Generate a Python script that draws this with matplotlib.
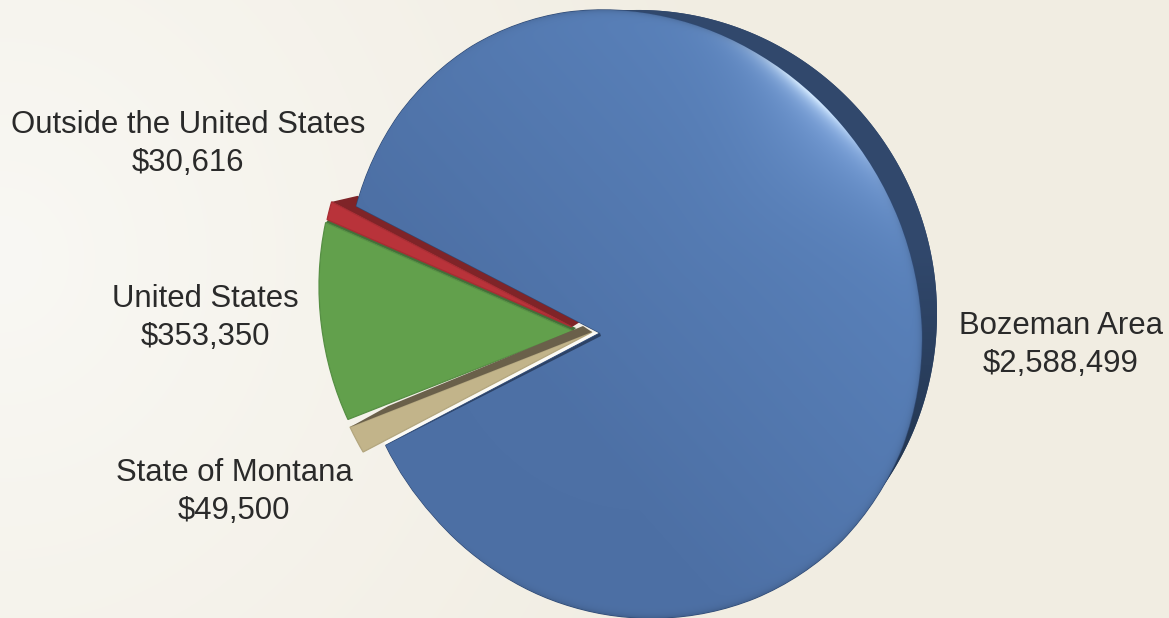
import numpy as np
import matplotlib
matplotlib.use("Agg")
import matplotlib.pyplot as plt
from matplotlib.transforms import Transform

categories = ["Bozeman Area", "Outside the United States", "United States", "State of Montana"]
amounts = [2588499, 30616, 353350, 49500]
label_x = [1061, 188, 205, 234]
label_y = [345, 144, 318, 492]

W, H = 1169, 618
# outline of the tilted disc, in pixels
CX, CY = 627.0, 314.0
L = np.array([[295.0, 0.0], [26.0, 303.0]])
L_INV = np.linalg.inv(L)
SQUASH = 1.08


class PieWarp(Transform):
    """Moves the unit pie onto the tilted disc, apex away from the centre."""
    input_dims = 2
    output_dims = 2

    def __init__(self, apex, shift, pinch=0.0):
        super().__init__()
        self.apex = np.array(apex, float)
        self.centre = np.array([CX + shift[0], CY + shift[1]])
        self.pinch = pinch

    def transform_non_affine(self, values):
        values = np.asarray(values, float)
        r = np.hypot(values[:, 0], values[:, 1])
        th = np.arctan2(values[:, 1], values[:, 0])
        d = np.column_stack([np.cos(th), -SQUASH * np.sin(th)])
        a = d @ L_INV.T
        b = L_INV @ (self.apex - self.centre)
        ab = a @ b
        aa = (a * a).sum(axis=1)
        t = (-ab + np.sqrt(ab ** 2 - aa * (b @ b - 1))) / aa
        # far side of the disc comes in a little
        t = t * (1 - self.pinch * np.clip(-np.cos(th), 0, None) ** 2)
        return self.apex + (r * t)[:, None] * d


def lerp(c1, c2, f):
    c1 = np.array(matplotlib.colors.to_rgb(c1))
    c2 = np.array(matplotlib.colors.to_rgb(c2))
    return c1 + (c2 - c1) * np.clip(f, 0, 1)[..., None]


def side_wall(ax, warp, theta, apex_d, outer_d, color, z):
    # thin extruded wall along one straight edge of a slice
    rad = np.radians(theta)
    corner = warp.transform(np.array([[np.cos(rad), np.sin(rad)]]))[0]
    apex = warp.apex
    ax.fill([apex[0], corner[0], corner[0] + outer_d[0], apex[0] + apex_d[0]],
            [apex[1], corner[1], corner[1] + outer_d[1], apex[1] + apex_d[1]],
            color=color, lw=0, zorder=z)


fig = plt.figure(figsize=(W / 100, H / 100), dpi=100)
ax = fig.add_axes([0, 0, 1, 1])

plt.rcParams['font.family'] = ['Liberation Sans', 'DejaVu Sans']

yy, xx = np.mgrid[0:H, 0:W] + 0.5

# page background, lightest at the middle of the left side
bg = lerp("#f9f8f4", "#f1ede2", np.hypot(xx / 760, (yy - 260) / 800))
ax.imshow(bg, extent=(0, W, H, 0), zorder=0, aspect="auto")

# dark back of the disc, only the part that shows past the upper right edge
t = np.linspace(-1.75, 1.1, 300)
back_x = 642 + 295 * np.cos(t)
back_y = 310 + 4 * np.cos(t) + 300 * np.sin(t)
back = ax.fill(back_x, back_y, color="#31496d", lw=0, zorder=1)[0]
back_img = ax.imshow(lerp("#31486c", "#233650", (yy - 250) / 230), extent=(0, W, H, 0), zorder=1.1, aspect="auto")
back_img.set_clip_path(back)

wedges, _ = ax.pie(amounts, startangle=205.9, counterclock=True, radius=1.0,
                   colors=["#5077ad", "#b9333a", "#62a04c", "#c2b48a"])
blue, red, green, tan = wedges

warps = {
    "blue": PieWarp((600, 333), (0, 0), pinch=0.055),
    "red": PieWarp((572, 327), (-12, -3)),
    "green": PieWarp((573, 331), (-13, -2)),
    "tan": PieWarp((592, 332), (-14, -1)),
}
for w, key, edge in zip(wedges, ["blue", "red", "green", "tan"],
                        ["#304a74", "#a82c33", "#568f44", "#b3a67e"]):
    w.set_transform(warps[key] + ax.transData)
    w.set_edgecolor(edge)
    w.set_linewidth(0.9)
blue.set_zorder(5)
red.set_zorder(3)
green.set_zorder(3)
tan.set_zorder(3)

# walls behind the small slices
side_wall(ax, warps["red"], red.theta1, (8, -5), (26, -6), "#7f2428", 2.5)
side_wall(ax, warps["green"], green.theta1, (3, -3), (4, -4), "#44703a", 2.6)
side_wall(ax, warps["tan"], tan.theta1, (-9, -6), (38, -21), "#6a604a", 4)
# pale gap and shadow along the lower straight edge of the big slice
side_wall(ax, warps["blue"], blue.theta1, (-6, -1), (-4, -8), "#fcfbf6", 2.8)
side_wall(ax, warps["blue"], blue.theta1, (1, 3), (0, 0), "#2c4266", 6)

# face shading of the big slice
dx = xx - CX
dy = yy - CY
u = L_INV[0, 0] * dx + L_INV[0, 1] * dy
v = L_INV[1, 0] * dx + L_INV[1, 1] * dy
rho = np.hypot(u, v)
ang = np.degrees(np.arctan2(-v, u))
face = lerp("#4d70a5", "#5a82bb", (u - v + 0.6) / 1.9)
window = np.exp(-((ang - 45) / 20.0) ** 2)
glow = window * np.exp(-np.clip(1 - rho, 0, None) / 0.13)
face = face + (np.array([0.50, 0.65, 0.87]) - face) * np.clip(glow, 0, 1)[..., None]
spark = np.exp(-((ang - 52) / 13.0) ** 2) * np.exp(-np.clip(1 - rho, 0, None) / 0.025)
face = face + (np.array([0.82, 0.91, 1.0]) - face) * np.clip(spark * 1.15, 0, 1)[..., None]
rim = (1 - window) * np.exp(-np.clip(1 - rho, 0, None) / 0.010)
face = face * (1 - 0.15 * rim)[..., None]
face_img = ax.imshow(np.clip(face, 0, 1), extent=(0, W, H, 0), zorder=5.1, aspect="auto")
face_img.set_clip_path(blue)

for name, amount, x, y in zip(categories, amounts, label_x, label_y):
    ax.text(x, y, f"{name}\n${amount:,}", ha="center", va="center", fontsize=22.4,
            color="#2a2a2a", linespacing=1.33, zorder=8)

ax.set_aspect("auto")
ax.set_xlim(0, W)
ax.set_ylim(H, 0)
ax.axis("off")
fig.savefig("out.png", dpi=100)
